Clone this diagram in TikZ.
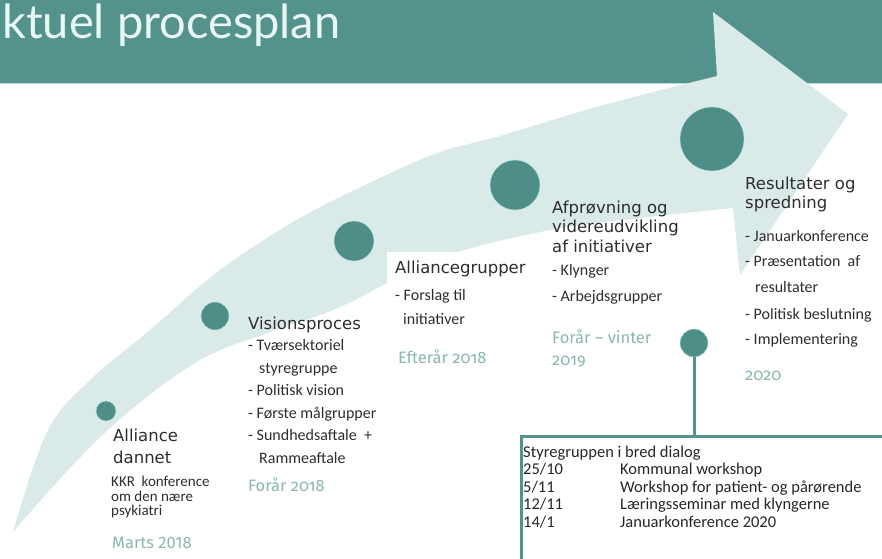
\documentclass[tikz,border=0pt]{standalone}
\usepackage{fontspec}
\setmainfont{DejaVu Sans}
\newfontfamily\titlefont{Lato}
\newfontfamily\itemfont{Carlito}
\newfontfamily\datefont{Fira Sans}[Numbers=OldStyle]
\newfontfamily\datelinfont{Fira Sans}
\usetikzlibrary{positioning}
\definecolor{plan-teal}{RGB}{84,147,140}
\definecolor{plan-dot}{RGB}{78,142,134}
\definecolor{plan-arrow}{RGB}{218,234,233}
\definecolor{plan-line}{RGB}{178,224,224}
\definecolor{plan-date}{RGB}{136,184,178}
\definecolor{plan-text}{RGB}{45,45,45}
\definecolor{plan-title}{RGB}{232,246,244}

\begin{document}
\begin{tikzpicture}[x=1pt,y=-1pt,
  titletxt/.style={font=\titlefont\fontsize{47}{47}\selectfont, text=plan-title, anchor=base west, inner sep=0pt},
  headtxt/.style={font=\fontsize{16.5}{20}\selectfont, text=plan-text, anchor=base west, inner sep=0pt},
  itemtxt/.style={font=\itemfont\fontsize{16}{16}\selectfont, text=plan-text, anchor=base west, inner sep=0pt},
  datetxt/.style={font=\datefont\fontsize{16.5}{20}\selectfont, text=plan-date, anchor=base west, inner sep=0pt},
  boxtxt/.style={font=\itemfont\fontsize{16.5}{18}\selectfont, text=black!85, anchor=base west, inner sep=0pt},
  milestone/.style={circle, fill=plan-dot, draw=plan-line, line width=0.5pt, inner sep=0pt, minimum size=#1},
]
\useasboundingbox (0,0) rectangle (882,558);
\clip (0,0) rectangle (882,558);
%Overskrift:
\fill[plan-teal] (0,0) rectangle (882,83);
\draw[plan-line, line width=1.2pt] (0,83.6) -- (882,83.6);
\node[titletxt] (title) at (2,38) {ktuel procesplan};
%Pil:
\fill[plan-arrow] plot[smooth, tension=0.6] coordinates {(13,532) (47,432) (90,380) (150,330) (220,270) (300,218) (380,178) (440,152) (500,136) (600,106) (717,76)}
  -- (713,12) -- (848,114) -- (740,275) -- (733,208)
  -- plot[smooth, tension=0.6] coordinates {(733,208) (640,218) (550,230) (440,258) (340,307) (270,332) (200,360) (127,413) (70,468) (13,532)} -- cycle;
\fill[white] (387,252) rectangle (540,380);
%Milepaele:
\node[milestone=20pt] (m1) at (106,411) {};
\node[milestone=28pt] (m2) at (215,316) {};
\node[milestone=40pt] (m3) at (354,241) {};
\node[milestone=50pt] (m4) at (515,185) {};
\node[milestone=64pt] (m5) at (712,139) {};
\node[milestone=28pt] (m6) at (694,343) {};
%Alliance dannet:
\node[headtxt] (a-head) at (113,441) {Alliance};
\node[headtxt] (a-head2) at (113,463) {dannet};
\foreach \t [count=\i] in {KKR\ \ konference, om den nære, psykiatri}
  \node[itemtxt, font=\itemfont\fontsize{15}{15}\selectfont] (a-\i) at (111,472+14.5*\i) {\t};
\node[datetxt, font=\datelinfont\fontsize{16.5}{20}\selectfont] (a-date) at (112,548) {Marts 2018};
%Visionsproces:
\node[headtxt] (v-head) at (248,329) {Visionsproces};
\foreach \t/\dx [count=\i] in {- Tværsektoriel/0, styregruppe/11, - Politisk vision/0, - Første målgrupper/0, - Sundhedsaftale\ \ +/0, Rammeaftale/11}
  \node[itemtxt] (v-\i) at (248+\dx,328+22.5*\i) {\t};
\node[datetxt] (v-date) at (248,491) {Forår 2018};
%Alliancegrupper:
\node[headtxt] (g-head) at (395,273) {Alliancegrupper};
\node[itemtxt] (g-1) at (395,300) {- Forslag til};
\node[itemtxt] (g-2) at (403,324) {initiativer};
\node[datetxt] (g-date) at (398,363) {Efterår 2018};
%Afproevning:
\foreach \t [count=\i] in {Afprøvning og, videreudvikling, af initiativer}
  \node[headtxt] (f-head\i) at (552,193.5+19.5*\i) {\t};
\node[itemtxt] (f-1) at (552,275) {- Klynger};
\node[itemtxt] (f-2) at (552,301) {- Arbejdsgrupper};
\node[datetxt] (f-date) at (552,343) {Forår – vinter};
\node[datetxt] (f-date2) at (552,365) {2019};
%Resultater:
\node[headtxt] (r-head) at (745,189) {Resultater og};
\node[headtxt] (r-head2) at (745,208) {spredning};
\foreach \t/\dx/\y in {- Januarkonference/0/241, - Præsentation\ \ af/0/266, resultater/10/292, - Politisk beslutning/0/319, - Implementering/0/344}
  \node[itemtxt] (r-\y) at (745+\dx,\y) {\t};
\node[datetxt] (r-date) at (745,380) {2020};
%Boks:
\node[draw=plan-teal, line width=3pt, minimum width=380pt, minimum height=140pt, anchor=north west, inner sep=0pt] (dialog) at (520,435) {};
\draw[plan-teal, line width=3pt] (m6) -- (m6 |- dialog.north);
\node[boxtxt] (d-head) at (523,457) {Styregruppen i bred dialog};
\foreach \d [count=\i] in {25/10, 5/11, 12/11, 14/1}
  \node[boxtxt] (d-\i) at (523,457+17.5*\i) {\d};
\foreach \t [count=\i] in {Kommunal workshop, Workshop for patient- og pårørende, Læringsseminar med klyngerne, Januarkonference 2020}
  \node[boxtxt] (e-\i) at (620,457+17.5*\i) {\t};
\end{tikzpicture}
\end{document}
